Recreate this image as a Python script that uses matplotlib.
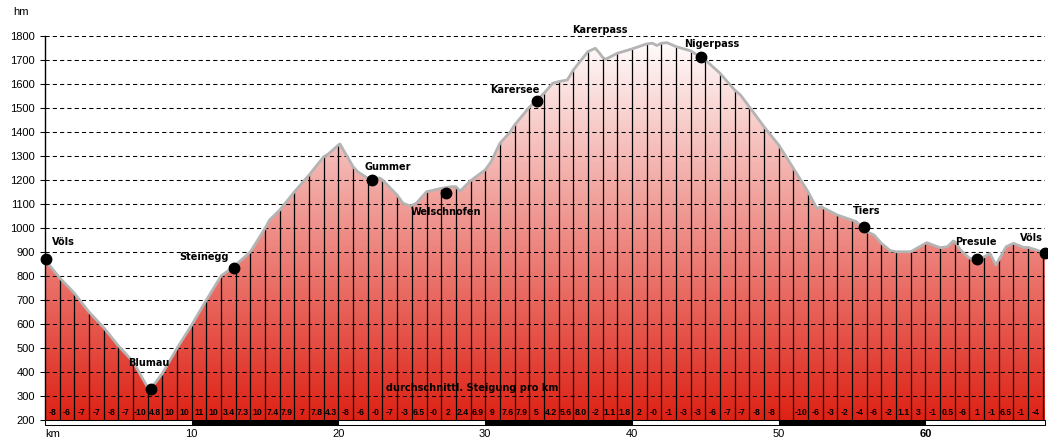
import numpy as np
import matplotlib.pyplot as plt
from matplotlib.colors import LinearSegmentedColormap
from matplotlib.patches import Polygon, Rectangle

# Hoehenprofil (km, hm)
dist_km = [0, 1, 1.7, 2, 3, 4, 5, 6, 7, 7.15, 8, 9, 10, 11, 12, 13, 14, 15, 15.3,
           16, 17, 18, 19, 19.3, 20, 20.1, 21, 21.3, 22, 22.8, 23, 24, 24.4, 24.9,
           25.3, 26, 27, 27.7, 28, 28.3, 29, 30, 30.4, 31, 31.7, 32, 33, 34, 34.6,
           35, 35.6, 36, 37, 37.5, 37.8, 38, 38.2, 38.9, 39, 40, 41, 41.4, 41.7, 42,
           42.4, 43, 44, 45, 46, 47, 47.4, 48, 49, 50, 51, 52, 52.6, 52.9, 53, 54,
           55, 55.3, 56, 56.5, 57, 57.6, 58, 59, 59.2, 60, 60.1, 61, 61.5, 61.9, 62,
           62.4, 63, 63.6, 64, 64.4, 64.8, 65, 65.5, 66, 66.7, 67, 67.6, 68.15]
elev_hm = [868, 792, 748, 728, 650, 585, 509, 443, 335, 325, 394, 499, 596, 700,
           800, 846, 901, 999, 1033, 1075, 1151, 1221, 1297, 1308, 1346, 1350,
           1255, 1235, 1207, 1208, 1200, 1137, 1103, 1092, 1103, 1151, 1165, 1172,
           1172, 1154, 1197, 1242, 1276, 1353, 1400, 1429, 1503, 1561, 1603, 1610,
           1617, 1658, 1735, 1749, 1728, 1711, 1703, 1725, 1728, 1746, 1767, 1770,
           1760, 1770, 1772, 1756, 1738, 1700, 1645, 1575, 1554, 1505, 1422, 1346,
           1249, 1151, 1082, 1089, 1085, 1054, 1033, 1026, 985, 971, 936, 906, 901,
           901, 908, 936, 939, 918, 922, 946, 943, 908, 874, 872, 880, 894, 846,
           867, 922, 936, 919, 919, 908, 894]

# Orte
orte = ["Völs", "Blumau", "Steinegg", "Gummer", "Welschnofen", "Karersee",
        "Karerpass", "Nigerpass", "Tiers", "Presule", "Völs"]
orte_km = [0.05, 7.2, 12.9, 22.3, 27.3, 33.5, 37.6, 44.7, 55.8, 63.5, 68.15]
orte_hm = [870, 329, 835, 1200, 1145, 1530, 1749, 1714, 1003, 871, 895]
orte_punkt = [True, True, True, True, True, True, False, True, True, True, True]

# Steigung pro km
steigung = ["-8", "-6", "-7", "-7", "-8", "-7", "-10", "4.8", "10", "10", "11", "10",
            "3.4", "7.3", "10", "7.4", "7.9", "7", "7.8", "4.3", "-8", "-6", "-0",
            "-7", "-3", "6.5", "-0", "2", "2.4", "6.9", "9", "7.6", "7.9", "5", "4.2",
            "5.6", "8.0", "-2", "1.1", "1.8", "2", "-0", "-1", "-3", "-3", "-6", "-7",
            "-7", "-8", "-8", "", "-10", "-6", "-3", "-2", "-4", "-6", "-2", "1.1", "3",
            "-1", "0.5", "-6", "1", "-1", "6.5", "-1", "-4"]

y_ticks = list(range(200, 1900, 100))
x_ticks = [10, 20, 30, 40, 50, 60]

W, H = 1048, 441
fig = plt.figure(figsize=(W / 100, H / 100), dpi=100)
ax = fig.add_axes([45 / W, (H - 420) / H, 1000 / W, 384 / H])
km_end = dist_km[-1]
ax.set_xlim(0, km_end)
ax.set_ylim(200, 1800)

# Verlauf weiss -> rot, auf das Profil geschnitten
cmap = LinearSegmentedColormap.from_list("rot", [(0.87, 0.13, 0.08), (1, 1, 1)])
grad = np.linspace(0, 1, 256).reshape(-1, 1)
im = ax.imshow(grad, extent=[0, km_end, 200, 1800], origin="lower", aspect="auto",
               cmap=cmap, zorder=1)
verts = list(zip(dist_km, elev_hm)) + [(km_end, 200), (0, 200)]
poly = Polygon(verts, closed=True, facecolor="none", edgecolor="none")
ax.add_patch(poly)
im.set_clip_path(poly)

# Gitterlinien
for y in y_ticks[1:]:
    ax.axhline(y, color="black", lw=0.75, ls=(0, (4, 3)), zorder=2)

# senkrechte Linien je km
for k in range(1, int(km_end) + 1):
    top = np.interp(k, dist_km, elev_hm)
    ax.plot([k, k], [200, top], color="black", lw=0.9, zorder=3)

ax.plot(dist_km, elev_hm, color="#b4b4b4", lw=2, zorder=4)

# Orte
offsets = [(6, 17, "left"), (-2, 26, "center"), (-6, 11, "right"), (-8, 13, "left"),
           (0, -19, "center"), (3, 11, "right"), (3, 18, "center"), (-17, 13, "left"),
           (-11, 16, "left"), (-22, 17, "left"), (-25, 15, "left")]
for name, k, h, p, (dx, dy, ha) in zip(orte, orte_km, orte_hm, orte_punkt, offsets):
    if p:
        ax.plot(k, h, "o", color="black", ms=7.5, zorder=6, clip_on=False)
    ax.annotate(name, (k, h), xytext=(dx * 0.72, dy * 0.72), textcoords="offset points",
                ha=ha, va="center", fontsize=7, fontweight="bold", zorder=7,
                annotation_clip=False)

for i, s in enumerate(steigung):
    if s:
        ax.text(i + 0.5, 233, s, ha="center", va="center", fontsize=6.2,
                fontweight="bold", family="Liberation Sans", zorder=5)
ax.text(29.1, 333, "durchschnittl. Steigung pro km", ha="center", va="center",
        fontsize=7, fontweight="bold", zorder=5)

# Achsen
for s in ["top", "right", "bottom"]:
    ax.spines[s].set_visible(False)
ax.spines["left"].set_linewidth(1)
ax.set_xticks([])
ax.set_yticks(y_ticks)
ax.set_yticklabels([str(y) for y in y_ticks], family="Liberation Sans", fontsize=8)
ax.tick_params(axis="y", length=3.6, width=0.75, pad=3.6)
fig.text(13 / W, 1 - 12 / H, "hm", ha="left", va="center", family="Liberation Sans",
         fontsize=8)

# Kilometerleiste
bar = fig.add_axes([45 / W, (H - 425) / H, 1000 / W, 5 / H])
bar.set_xlim(0, km_end)
bar.set_ylim(0, 1)
for start in range(0, int(km_end) + 1, 10):
    width = min(10, km_end - start)
    fc = "black" if (start // 10) % 2 == 1 else "white"
    bar.add_patch(Rectangle((start, 0), width, 1, facecolor=fc, edgecolor="black",
                            lw=0.75, clip_on=False))
for s in bar.spines.values():
    s.set_visible(False)
bar.set_yticks([])
bar.set_xticks(x_ticks)
bar.set_xticklabels([str(x) for x in x_ticks], family="Liberation Sans", fontsize=8)
bar.get_xticklabels()[-1].set_fontweight("bold")
bar.tick_params(axis="x", length=0, pad=3)
bar.annotate("km", (0, 0), xycoords=("data", "axes fraction"), xytext=(0, -3),
             textcoords="offset points", ha="left", va="top",
             family="Liberation Sans", fontsize=8)

fig.savefig("out.png", dpi=100)
